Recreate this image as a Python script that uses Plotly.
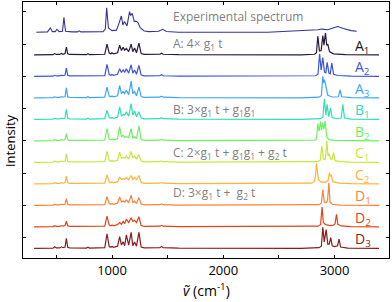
import plotly.graph_objects as go

# ---------------- data ----------------
NAMES = ["A1", "A2", "A3", "B1", "B2", "C1", "C2", "D1", "D2", "D3"]
LABELS = ["A<sub>1</sub>", "A<sub>2</sub>", "A<sub>3</sub>", "B<sub>1</sub>", "B<sub>2</sub>",
          "C<sub>1</sub>", "C<sub>2</sub>", "D<sub>1</sub>", "D<sub>2</sub>", "D<sub>3</sub>"]
OFFSETS = [9, 8, 7, 6, 5, 4, 3, 2, 1, 0]
EXP_OFFSET = 10.05

# shared fingerprint-region wavenumbers for the calculated spectra
FP_X = [300, 470, 485, 500, 530, 545, 560, 578, 590, 602, 620, 770, 784, 798, 935, 955, 975,
        990, 1000, 1012, 1050, 1069, 1085, 1100, 1114, 1129, 1150, 1172, 1187, 1203, 1220,
        1242, 1262, 1290, 1430, 1445, 1460, 1600, 2700]

FP_Y = {
    "A1": [0, .01, .06, .02, .02, .07, .03, .06, .36, .05, .02, .01, .05, .01, .03, .50, .08,
           .05, .10, .05, .10, .45, .20, .35, .22, .30, .15, .50, .15, .32, .10, .55, .06, .02,
           .03, .08, .03, .01, 0],
    "A2": [0, .01, .05, .02, .02, .06, .03, .06, .39, .05, .02, .01, .04, .01, .03, .56, .08,
           .05, .09, .05, .10, .36, .18, .30, .20, .35, .15, .54, .15, .30, .10, .51, .06, .02,
           .03, .08, .03, .01, 0],
    "A3": [0, .01, .05, .02, .02, .06, .03, .06, .47, .05, .02, .01, .05, .01, .03, .50, .08,
           .05, .09, .05, .10, .57, .20, .30, .20, .35, .15, .78, .20, .30, .10, .50, .06, .02,
           .03, .08, .03, .01, 0],
    "B1": [0, .01, .05, .02, .02, .06, .03, .06, .47, .05, .02, .01, .05, .01, .03, .42, .08,
           .05, .09, .05, .10, .57, .15, .23, .20, .35, .15, .73, .20, .39, .12, .36, .06, .02,
           .03, .08, .03, .01, 0],
    "B2": [0, .01, .05, .02, .02, .06, .03, .06, .34, .05, .02, .01, .04, .01, .03, .57, .08,
           .05, .09, .05, .10, .65, .20, .26, .15, .20, .15, .57, .12, .20, .10, .70, .06, .02,
           .03, .08, .03, .01, 0],
    "C1": [0, .01, .05, .02, .02, .06, .03, .06, .39, .05, .02, .01, .04, .01, .03, .51, .08,
           .05, .09, .05, .10, .47, .20, .23, .18, .30, .15, .51, .20, .30, .15, .36, .06, .02,
           .03, .07, .03, .01, 0],
    "C2": [0, .01, .05, .02, .02, .06, .03, .06, .36, .05, .02, .01, .04, .01, .03, .42, .08,
           .05, .09, .05, .10, .30, .20, .25, .20, .30, .18, .39, .20, .30, .20, .39, .06, .02,
           .03, .07, .03, .01, 0],
    "D1": [0, .01, .05, .02, .02, .06, .03, .06, .31, .05, .02, .01, .04, .01, .03, .40, .08,
           .05, .09, .05, .10, .39, .15, .20, .15, .25, .12, .47, .12, .20, .08, .36, .06, .02,
           .03, .07, .03, .01, 0],
    "D2": [0, .01, .05, .02, .02, .06, .03, .06, .26, .05, .02, .01, .04, .01, .03, .50, .08,
           .05, .09, .05, .10, .20, .12, .25, .15, .36, .20, .42, .25, .30, .20, .47, .06, .02,
           .03, .07, .03, .01, 0],
    "D3": [0, .01, .07, .02, .02, .07, .03, .06, .47, .05, .02, .01, .05, .01, .03, .67, .08,
           .05, .10, .05, .10, .54, .15, .31, .12, .62, .15, .74, .12, .30, .10, .74, .06, .02,
           .03, .09, .03, .01, 0],
}

# C-H stretching region, per spectrum
CH_X = {
    "A1": [2750, 2820, 2838, 2850, 2865, 2880, 2895, 2905, 2919, 2930, 2940, 2955, 2990, 3100, 3400],
    "A2": [2750, 2830, 2852, 2866, 2880, 2895, 2910, 2922, 2934, 2950, 2962, 2976, 2992, 3030, 3150, 3400],
    "A3": [2750, 2860, 2882, 2895, 2902, 2908, 2914, 2925, 2940, 2980, 3035, 3050, 3065, 3150, 3400],
    "B1": [2750, 2870, 2895, 2910, 2922, 2934, 2948, 2964, 2980, 3020, 3060, 3075, 3090, 3150, 3400],
    "B2": [2750, 2820, 2838, 2850, 2862, 2874, 2884, 2895, 2905, 2916, 2930, 2950, 3000, 3100, 3400],
    "C1": [2750, 2850, 2872, 2886, 2900, 2918, 2931, 2942, 2952, 2965, 2978, 2991, 3005, 3050, 3150, 3400],
    "C2": [2700, 2790, 2818, 2830, 2838, 2846, 2856, 2880, 2920, 2942, 2955, 2962, 2970, 2985, 3040, 3150, 3400],
    "D1": [2750, 2860, 2882, 2895, 2908, 2925, 2938, 2949, 2960, 2980, 3050, 3400],
    "D2": [2750, 2850, 2875, 2888, 2900, 2920, 2960, 2990, 3005, 3018, 3030, 3060, 3150, 3400],
    "D3": [2750, 2860, 2882, 2895, 2908, 2925, 2940, 2953, 2966, 2980, 3000, 3028, 3041, 3055, 3120, 3400],
}
CH_Y = {
    "A1": [0, .03, .10, .87, .18, .20, .90, .45, 1.02, .45, .50, .15, .05, .01, 0],
    "A2": [0, .03, .10, 1.04, .30, .88, .20, .15, .65, .15, .12, .62, .10, .04, .01, 0],
    "A3": [0, .03, .10, 1.00, .70, .85, .75, .45, .12, .04, .05, .37, .05, .01, 0],
    "B1": [0, .03, .10, .96, .20, .70, .12, .54, .08, .04, .06, .70, .06, .01, 0],
    "B2": [0, .03, .10, .80, .45, .90, .50, .85, .55, .93, .20, .06, .02, .01, 0],
    "C1": [0, .03, .10, .77, .15, .15, 1.00, .30, .40, .15, .15, .45, .08, .03, .01, 0],
    "C2": [0, .03, .10, .40, .95, .70, .20, .08, .08, .15, .52, .35, .42, .10, .03, .01, 0],
    "D1": [0, .03, .10, .73, .15, .12, .25, 1.04, .15, .05, .01, 0],
    "D2": [0, .03, .10, .92, .20, .10, .06, .08, .15, .58, .12, .04, .01, 0],
    "D3": [0, .03, .10, .98, .30, .87, .20, .20, .50, .12, .08, .12, .43, .06, .01, 0],
}

EXP_X = [320, 420, 446, 465, 490, 505, 525, 555, 568, 582, 640, 690, 705, 720, 920, 940, 952,
         968, 1000, 1040, 1065, 1084, 1098, 1112, 1135, 1158, 1168, 1182, 1200, 1215, 1233,
         1255, 1290, 1330, 1420, 1455, 1490, 1600, 2400, 2600, 2780, 2850, 2885, 2940, 3000,
         3030, 3080, 3150, 3200]
EXP_Y = [0, .02, .20, .03, .03, .14, .03, .05, .70, .05, .02, .02, .07, .02, .03, .15, 1.14,
         .20, .08, .10, .45, .76, .34, .50, .30, .96, .78, .88, .50, .52, .45, .20, .06, .03,
         .05, .14, .04, 0, 0, .05, .07, .12, .15, .12, .22, .27, .18, .08, .05]

COLORS = ["#2a1838", "#3d55d6", "#3ba6f5", "#2ee0b4", "#6ff061",
          "#c5e83a", "#ffb433", "#ff8036", "#e0441a", "#8b1c1c"]
LABEL_COLORS = ["#1a1a1a", "#3d55d6", "#3ba6f5", "#2ee0b4", "#6ff061",
                "#c5e83a", "#ffb433", "#ff8036", "#e0441a", "#8b1c1c"]
EXP_COLOR = "#33339c"

GROUP_TEXT = ["Experimental spectrum",
              "A: 4× g<sub>1</sub> t",
              "B: 3×g<sub>1</sub> t + g<sub>1</sub>g<sub>1</sub>",
              "C: 2×g<sub>1</sub> t + g<sub>1</sub>g<sub>1</sub> + g<sub>2</sub> t",
              "D: 3×g<sub>1</sub> t +  g<sub>2</sub> t"]
GROUP_Y = [10.8, 9.5, 6.43, 4.43, 2.57]
GROUP_X = 1530
LABEL_X = 3165

X_TICKS = [500, 1000, 1500, 2000, 2500, 3000]
X_TICKTEXT = ["", "1000", "", "2000", "", "3000"]
Y_TICKS = [0.5, 2, 3.5, 5, 6.5, 8, 9.5, 11]

# ---------------- figure ----------------
fig = go.Figure()

fig.add_trace(go.Scatter(x=EXP_X, y=[v + EXP_OFFSET for v in EXP_Y], mode="lines",
                         line=dict(color=EXP_COLOR, width=1.1), showlegend=False,
                         hoverinfo="skip"))

for name, off, col in zip(NAMES, OFFSETS, COLORS):
    xs = FP_X + CH_X[name]
    ys = [v + off for v in FP_Y[name] + CH_Y[name]]
    fig.add_trace(go.Scatter(x=xs, y=ys, mode="lines", line=dict(color=col, width=1.2),
                             showlegend=False, hoverinfo="skip"))

font_main = "Open Sans, Noto Sans, DejaVu Sans, sans-serif"

for txt, gy in zip(GROUP_TEXT, GROUP_Y):
    fig.add_annotation(x=GROUP_X, y=gy, text=txt, showarrow=False, xanchor="left",
                       yanchor="middle", font=dict(size=12, color="#7f7f7f", family=font_main))

for lab, off, col in zip(LABELS, OFFSETS, LABEL_COLORS):
    fig.add_annotation(x=LABEL_X, y=off + 0.4, text=lab, showarrow=False, xanchor="left",
                       yanchor="middle", font=dict(size=14, color=col, family=font_main))

# axis titles as paper-positioned annotations
fig.add_annotation(xref="paper", yref="paper", x=0.5, y=-0.125, text="<i>ṽ</i> (cm<sup>-1</sup>)",
                   showarrow=False, xanchor="center", yanchor="middle",
                   font=dict(size=14, color="black", family=font_main))
fig.add_annotation(xref="paper", yref="paper", x=-0.036, y=0.46, text="Intensity",
                   showarrow=False, xanchor="center", yanchor="middle", textangle=-90,
                   font=dict(size=13, color="black", family=font_main))

fig.update_layout(
    width=392, height=302,
    margin=dict(l=23, r=3, t=2, b=44),
    paper_bgcolor="white", plot_bgcolor="white",
    font=dict(family=font_main, color="black"),
)
fig.update_xaxes(range=[200, 3490], tickvals=X_TICKS, ticktext=X_TICKTEXT, automargin=False,
                 ticks="inside", ticklen=3, tickcolor="black", mirror="ticks",
                 showline=True, linecolor="black", linewidth=1, showgrid=False, zeroline=False,
                 tickfont=dict(size=13))
fig.update_yaxes(range=[-0.45, 11.46], tickvals=Y_TICKS, showticklabels=False, automargin=False,
                 ticks="inside", ticklen=3, tickcolor="black", mirror="ticks",
                 showline=True, linecolor="black", linewidth=1, showgrid=False, zeroline=False)

fig.write_html("out.html", config={"displayModeBar": False},
               post_script="document.body.style.margin='0';document.body.style.overflow='hidden';")
